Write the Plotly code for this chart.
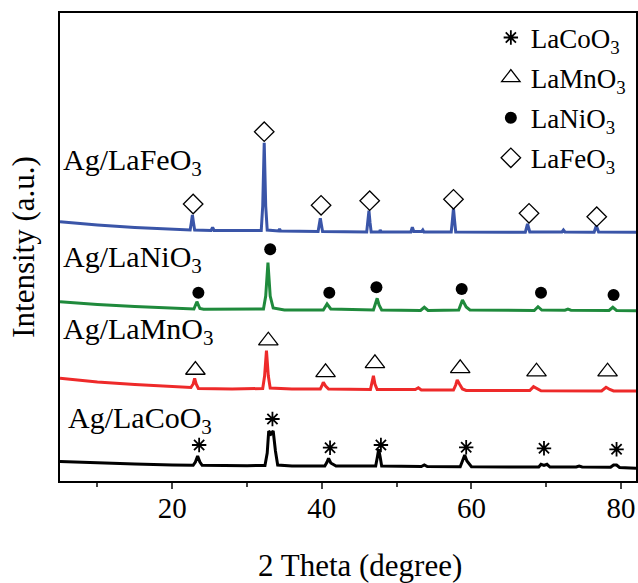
import plotly.graph_objects as go

# ---------------- data (intensity in a.u., stacked) ----------------
co_x = [5, 10, 15, 20, 22.8, 23.1, 23.4, 23.7, 24.0, 30, 32.4, 32.7, 32.9, 33.2, 33.5, 33.8, 34.1, 36,
        40.4, 40.7, 40.9, 41.2, 41.5, 41.9, 45, 47.2, 47.45, 47.6, 47.8, 48.0, 53.3, 53.7, 54.1,
        58.5, 58.8, 59.1, 59.4, 59.6, 60.0, 65, 69.0, 69.3, 69.7, 70.1, 70.5, 74, 74.4, 74.8,
        78.6, 79.0, 79.4, 79.8, 82]
co_y = [19.5, 18, 17, 16, 15.7, 19, 25, 19, 15.7, 15.3, 15.5, 28, 50, 47, 50, 30, 16, 15,
        15, 19, 22.7, 18, 17, 15, 15, 15, 25, 31.7, 24, 15, 14.5, 16, 14.5,
        14.3, 20, 26, 20, 17.7, 14.3, 14, 14, 16.7, 15.5, 16.7, 14, 14, 15, 14,
        13.7, 16, 16, 13.5, 12.7]

mn_x = [5, 10, 15, 20, 22.5, 22.8, 23.0, 23.2, 23.5, 28, 32.1, 32.35, 32.6, 32.85, 33.1, 36,
        39.8, 40.0, 40.2, 40.5, 40.9, 46.5, 46.7, 46.9, 47.1, 47.4, 52.5, 52.9, 53.3,
        57.6, 57.9, 58.1, 58.4, 58.8, 59.3, 67.8, 68.3, 68.8, 69.3, 77.4, 78.0, 78.5, 79, 82]
mn_y = [102.7, 99, 96.5, 94.5, 93.5, 97, 102.7, 97, 92.5, 92, 92.5, 105, 130.3, 105, 93, 92,
        92, 95, 98.7, 95, 92, 91.5, 97, 105.3, 97, 91.5, 91.5, 93.3, 91,
        91, 96, 101, 97, 92, 90.5, 90.5, 94.3, 92.5, 90.3, 90, 93.7, 91.5, 90, 90]

ni_x = [5, 10, 15, 20, 22.9, 23.3, 23.7, 24.2, 30, 32.2, 32.5, 32.8, 33.1, 33.5, 35,
        40.2, 40.7, 41.2, 46.9, 47.15, 47.4, 47.65, 48.0, 53.2, 53.7, 54.2,
        58.3, 58.8, 59.3, 59.8, 68.4, 68.9, 69.4, 72.5, 72.9, 73.3, 78.4, 78.9, 79.4, 82]
ni_y = [179.3, 176.5, 174.5, 172.7, 172, 179.3, 172.5, 171.7, 171.5, 172, 185, 218.3, 185, 173, 171,
        171, 177, 172, 171, 176, 182.7, 176, 171, 170.5, 173.7, 170.5,
        171, 181, 174, 171, 170.5, 174.3, 171, 170.8, 171.8, 170.8, 170.5, 173.7, 170.5, 170.3]

fe_x = [5, 10, 15, 20, 22.4, 22.55, 22.7, 22.85, 23.0, 25.2, 25.4, 25.6, 31.9, 32.1, 32.3, 32.5, 32.7,
        34.2, 34.35, 34.5, 39.5, 39.65, 39.8, 39.95, 40.1, 46.0, 46.15, 46.3, 46.45, 46.6,
        47.7, 47.8, 47.95, 51.9, 52.1, 52.3, 53.35, 53.5, 53.65, 57.3, 57.45, 57.6, 57.75, 57.9,
        67.2, 67.5, 67.8, 72.1, 72.3, 72.5, 76.4, 76.7, 77.0, 82]
fe_y = [259.3, 256, 253.5, 251.7, 251, 258, 266, 258, 251, 250.5, 253.7, 250.5, 250.5, 275, 338.3, 275, 251,
        250, 252, 250, 249.5, 256, 262.7, 256, 249.5, 249, 258, 270.3, 258, 249,
        249, 251, 249, 249, 253.7, 249.5, 249.5, 251, 249, 249, 260, 272.7, 260, 249,
        248.7, 257, 249, 249, 251, 249, 248.7, 255.3, 249, 248.7]

# phase marks above the peaks
star_x = [23.6, 33.4, 41.1, 47.9, 59.3, 69.7, 79.4]
star_y = [36, 62, 33.3, 36, 33.7, 32.7, 31.7]
tri_x = [23.1, 32.85, 40.5, 47.1, 58.5, 68.7, 78.2]
tri_y = [111, 140.3, 108.7, 117.7, 112.7, 109.3, 109.3]
dot_x = [23.5, 33.1, 41.0, 47.3, 58.7, 69.3, 79.0]
dot_y = [188.3, 231.7, 188.3, 193.7, 192, 188.3, 186]
dia_x = [22.8, 32.3, 39.9, 46.4, 57.6, 67.7, 76.75]
dia_y = [277, 349.3, 275.7, 280.3, 281.7, 267.7, 264.3]

sample_labels = ["Ag/LaCoO<sub>3</sub>", "Ag/LaMnO<sub>3</sub>", "Ag/LaNiO<sub>3</sub>", "Ag/LaFeO<sub>3</sub>"]
phase_labels = ["LaCoO<sub>3</sub>", "LaMnO<sub>3</sub>", "LaNiO<sub>3</sub>", "LaFeO<sub>3</sub>"]
x_ticks = [20, 40, 60, 80]
x_title = "2 Theta (degree)"
y_title = "Intensity (a.u.)"

FONT = "Liberation Serif"
fig = go.Figure()

for xs, ys, col in [(co_x, co_y, "#000000"), (mn_x, mn_y, "#ee2a2a"),
                    (ni_x, ni_y, "#1f8a3c"), (fe_x, fe_y, "#3a55a8")]:
    fig.add_trace(go.Scatter(x=xs, y=ys, mode="lines", showlegend=False,
                             line=dict(color=col, width=3), hoverinfo="skip"))

fig.add_trace(go.Scatter(x=star_x, y=star_y, mode="markers", name=phase_labels[0], legendgroup="a",
                         marker=dict(symbol="asterisk-open", size=12, color="black",
                                     line=dict(color="black", width=1.8))))
fig.add_trace(go.Scatter(x=tri_x, y=tri_y, mode="markers", name=phase_labels[1], legendgroup="b",
                         marker=dict(symbol="triangle-up-open", size=17, color="black",
                                     line=dict(color="black", width=1.3))))
fig.add_trace(go.Scatter(x=dot_x, y=dot_y, mode="markers", name=phase_labels[2], legendgroup="c",
                         marker=dict(symbol="circle", size=12, color="black")))
fig.add_trace(go.Scatter(x=dia_x, y=dia_y, mode="markers", name=phase_labels[3], legendgroup="d",
                         marker=dict(symbol="diamond-open", size=15, color="black",
                                     line=dict(color="black", width=1.3))))

label_py = [420, 331, 259, 162]   # vertical pixel centres of the sample labels
label_px = [66, 61, 61, 61]
for txt, py, px in zip(sample_labels, label_py, label_px):
    fig.add_annotation(text=txt, xref="paper", yref="paper",
                       x=(px - 60) / 576, y=(481 - py) / 468, xanchor="left", yanchor="middle",
                       showarrow=False, font=dict(family=FONT, size=30, color="black"))

# x-axis title (placed as an annotation for exact position)
fig.add_annotation(text=x_title, xref="paper", yref="paper", x=(360 - 60) / 576, y=(481 - 565) / 468,
                   xanchor="center", yanchor="middle", showarrow=False,
                   font=dict(family=FONT, size=31, color="black"))

fig.update_layout(
    width=638, height=583,
    margin=dict(l=60, r=2, t=13, b=102, autoexpand=False),
    paper_bgcolor="white", plot_bgcolor="white",
    font=dict(family=FONT, color="black"),
    legend=dict(x=0.748, y=0.999, xanchor="left", yanchor="top",
                font=dict(family=FONT, size=27, color="black"),
                bgcolor="rgba(0,0,0,0)", tracegroupgap=2, traceorder="grouped"),
    xaxis=dict(range=[5, 82], tickvals=x_ticks, ticks="outside", ticklen=6, tickwidth=1.5,
               minor=dict(tickvals=[10, 30, 50, 70], ticks="outside", ticklen=4, tickwidth=1.5),
               showline=True, linecolor="black", linewidth=1.5, mirror=True, showgrid=False,
               zeroline=False, automargin=False, ticklabelstandoff=-6,
               tickfont=dict(family=FONT, size=29, color="black")),
    yaxis=dict(range=[0, 468], showticklabels=False, ticks="", showline=True, linecolor="black",
               linewidth=1.5, mirror=True, showgrid=False, zeroline=False, automargin=False,
               title=dict(text=y_title, font=dict(family=FONT, size=31, color="black"),
                          standoff=14)),
)

fig.write_html("out.html", config={"displayModeBar": False},
               post_script="document.body.style.margin='0';")
